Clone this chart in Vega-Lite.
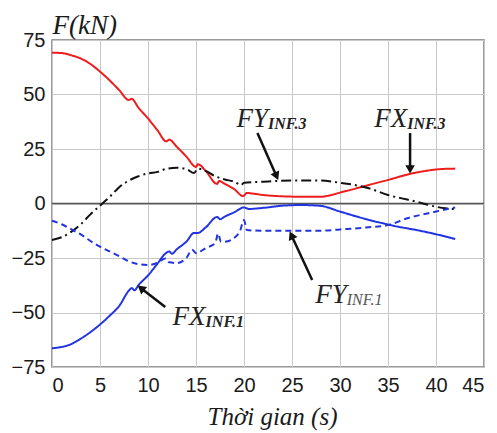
{
  "$schema": "https://vega.github.io/schema/vega-lite/v6.json",
  "width": 432,
  "height": 327,
  "autosize": "none",
  "padding": {"left": 52, "top": 40, "right": 13, "bottom": 66},
  "background": "white",
  "config": {
    "view": {"stroke": "#7a7a7a", "strokeWidth": 1.5},
    "axis": {"gridColor": "#c8c8c8", "gridWidth": 1, "domain": false, "ticks": false, "labelFont": "Liberation Sans", "labelFontSize": 20, "labelColor": "#1a1a1a", "titleFont": "Liberation Serif", "titleFontStyle": "italic", "titleFontWeight": "normal", "titleFontSize": 25, "titleColor": "#1a1a1a"}
  },
  "datasets": {
    "series": [
      {"t":0,"F":69.2,"s":"FX3"},{"t":1,"F":69,"s":"FX3"},{"t":2,"F":68,"s":"FX3"},{"t":3,"F":66.5,"s":"FX3"},{"t":4,"F":64,"s":"FX3"},{"t":5,"F":60.5,"s":"FX3"},{"t":6,"F":56.5,"s":"FX3"},{"t":7,"F":52,"s":"FX3"},{"t":8,"F":47.5,"s":"FX3"},{"t":8.3,"F":48,"s":"FX3"},{"t":9,"F":44,"s":"FX3"},{"t":10,"F":39,"s":"FX3"},{"t":11,"F":33.5,"s":"FX3"},{"t":11.9,"F":28.5,"s":"FX3"},{"t":12.2,"F":29.3,"s":"FX3"},{"t":13,"F":26,"s":"FX3"},{"t":14,"F":21.5,"s":"FX3"},{"t":15,"F":16.8,"s":"FX3"},{"t":15.2,"F":18,"s":"FX3"},{"t":16,"F":15,"s":"FX3"},{"t":17.2,"F":9,"s":"FX3"},{"t":17.4,"F":10.3,"s":"FX3"},{"t":18,"F":9,"s":"FX3"},{"t":19,"F":6.5,"s":"FX3"},{"t":19.9,"F":3.4,"s":"FX3"},{"t":20.3,"F":4.8,"s":"FX3"},{"t":21,"F":4.5,"s":"FX3"},{"t":22,"F":3.9,"s":"FX3"},{"t":24,"F":3.3,"s":"FX3"},{"t":26,"F":3.1,"s":"FX3"},{"t":28,"F":3.1,"s":"FX3"},{"t":29,"F":3.8,"s":"FX3"},{"t":30,"F":5,"s":"FX3"},{"t":31.5,"F":6.7,"s":"FX3"},{"t":33,"F":8.5,"s":"FX3"},{"t":35,"F":10.8,"s":"FX3"},{"t":37.5,"F":13.8,"s":"FX3"},{"t":39,"F":15,"s":"FX3"},{"t":40,"F":15.6,"s":"FX3"},{"t":41,"F":15.9,"s":"FX3"},{"t":42,"F":16,"s":"FX3"},
      {"t":0,"F":-16.7,"s":"FY3"},{"t":1,"F":-15.5,"s":"FY3"},{"t":2,"F":-13,"s":"FY3"},{"t":3,"F":-9.5,"s":"FY3"},{"t":4,"F":-5,"s":"FY3"},{"t":5,"F":-1,"s":"FY3"},{"t":6,"F":3,"s":"FY3"},{"t":7,"F":7.5,"s":"FY3"},{"t":8,"F":10.5,"s":"FY3"},{"t":9,"F":12.5,"s":"FY3"},{"t":10,"F":13.8,"s":"FY3"},{"t":11,"F":14.5,"s":"FY3"},{"t":12,"F":16,"s":"FY3"},{"t":13,"F":16.4,"s":"FY3"},{"t":14,"F":15.8,"s":"FY3"},{"t":14.8,"F":14,"s":"FY3"},{"t":15.2,"F":16,"s":"FY3"},{"t":16,"F":15,"s":"FY3"},{"t":17,"F":12.5,"s":"FY3"},{"t":18,"F":11,"s":"FY3"},{"t":19,"F":10,"s":"FY3"},{"t":19.7,"F":8.5,"s":"FY3"},{"t":20,"F":9.5,"s":"FY3"},{"t":22,"F":10,"s":"FY3"},{"t":25,"F":10.5,"s":"FY3"},{"t":28,"F":10.5,"s":"FY3"},{"t":30,"F":9.5,"s":"FY3"},{"t":31.5,"F":8.5,"s":"FY3"},{"t":33,"F":7,"s":"FY3"},{"t":35,"F":3.9,"s":"FY3"},{"t":37,"F":1.8,"s":"FY3"},{"t":38,"F":0.8,"s":"FY3"},{"t":40,"F":-1.5,"s":"FY3"},{"t":41,"F":-2.2,"s":"FY3"},{"t":42,"F":-2.6,"s":"FY3"},
      {"t":0,"F":-66.4,"s":"FX1"},{"t":1,"F":-65.8,"s":"FX1"},{"t":2,"F":-64.5,"s":"FX1"},{"t":3,"F":-62,"s":"FX1"},{"t":4,"F":-59,"s":"FX1"},{"t":5,"F":-55.5,"s":"FX1"},{"t":6,"F":-51.5,"s":"FX1"},{"t":7,"F":-47,"s":"FX1"},{"t":8,"F":-40,"s":"FX1"},{"t":8.3,"F":-38.8,"s":"FX1"},{"t":8.6,"F":-39.8,"s":"FX1"},{"t":9,"F":-37.5,"s":"FX1"},{"t":10,"F":-33,"s":"FX1"},{"t":11,"F":-27.5,"s":"FX1"},{"t":11.8,"F":-23,"s":"FX1"},{"t":12.2,"F":-22,"s":"FX1"},{"t":12.5,"F":-23,"s":"FX1"},{"t":13,"F":-21,"s":"FX1"},{"t":14,"F":-17.5,"s":"FX1"},{"t":14.8,"F":-13.5,"s":"FX1"},{"t":15.2,"F":-13.5,"s":"FX1"},{"t":16,"F":-11,"s":"FX1"},{"t":17.2,"F":-6.2,"s":"FX1"},{"t":17.5,"F":-7.2,"s":"FX1"},{"t":18,"F":-6,"s":"FX1"},{"t":19,"F":-4,"s":"FX1"},{"t":20,"F":-1.8,"s":"FX1"},{"t":20.5,"F":-2.5,"s":"FX1"},{"t":22,"F":-2,"s":"FX1"},{"t":24,"F":-1,"s":"FX1"},{"t":26,"F":-0.7,"s":"FX1"},{"t":28,"F":-1.1,"s":"FX1"},{"t":30,"F":-3.7,"s":"FX1"},{"t":32,"F":-6.3,"s":"FX1"},{"t":34,"F":-8.6,"s":"FX1"},{"t":36,"F":-10.6,"s":"FX1"},{"t":38,"F":-12.2,"s":"FX1"},{"t":40,"F":-14.1,"s":"FX1"},{"t":42,"F":-16.3,"s":"FX1"},
      {"t":0,"F":-7.9,"s":"FY1"},{"t":1,"F":-9.5,"s":"FY1"},{"t":2,"F":-11.8,"s":"FY1"},{"t":3,"F":-14.2,"s":"FY1"},{"t":4,"F":-17.2,"s":"FY1"},{"t":5,"F":-19.8,"s":"FY1"},{"t":6,"F":-22,"s":"FY1"},{"t":7,"F":-24.2,"s":"FY1"},{"t":8,"F":-26.5,"s":"FY1"},{"t":9,"F":-27.8,"s":"FY1"},{"t":10,"F":-28.2,"s":"FY1"},{"t":11,"F":-27.2,"s":"FY1"},{"t":11.8,"F":-25.2,"s":"FY1"},{"t":12.2,"F":-27,"s":"FY1"},{"t":13,"F":-27.3,"s":"FY1"},{"t":14,"F":-25,"s":"FY1"},{"t":14.6,"F":-21.2,"s":"FY1"},{"t":15,"F":-22.8,"s":"FY1"},{"t":16,"F":-20.5,"s":"FY1"},{"t":17,"F":-18.2,"s":"FY1"},{"t":17.3,"F":-13.8,"s":"FY1"},{"t":17.6,"F":-17.5,"s":"FY1"},{"t":18,"F":-17.5,"s":"FY1"},{"t":19.5,"F":-13.5,"s":"FY1"},{"t":20,"F":-7.6,"s":"FY1"},{"t":20.3,"F":-12.2,"s":"FY1"},{"t":22,"F":-12.5,"s":"FY1"},{"t":25,"F":-12.5,"s":"FY1"},{"t":28,"F":-12.5,"s":"FY1"},{"t":30,"F":-11.9,"s":"FY1"},{"t":33,"F":-10.9,"s":"FY1"},{"t":35,"F":-9.9,"s":"FY1"},{"t":37,"F":-6.8,"s":"FY1"},{"t":40,"F":-3.7,"s":"FY1"},{"t":42,"F":-1.8,"s":"FY1"}
    ],
    "arrows": [
      {"id":"FY3","x":21.4,"y":32.3,"x2":23.33,"y2":13.1},
      {"id":"FX3","x":37.3,"y":32.3,"x2":37.3,"y2":16.3},
      {"id":"FX1","x":11.8,"y":-47.5,"x2":9.375,"y2":-39.2},
      {"id":"FY1","x":27.1,"y":-35.1,"x2":25.0,"y2":-15.1}
    ],
    "labels": [
      {"id":"FY3","x":22.5,"y":35.1,"main":"FY","sub":"INF.3"},
      {"id":"FX3","x":37.0,"y":35.1,"main":"FX","sub":"INF.3"},
      {"id":"FX1","x":16.0,"y":-55.7,"main":"FX","sub":"INF.1"},
      {"id":"FY1","x":30.7,"y":-45.6,"main":"FY","sub":"INF.1"}
    ]
  },
  "layer": [
    {
      "data": {"values": [{"z": 0}]},
      "mark": {"type": "rule", "color": "#555555", "strokeWidth": 1.5},
      "encoding": {"y": {"field": "z", "type": "quantitative", "scale": {"domain": [-75, 75], "nice": false}}}
    },
    {
      "data": {"name": "series"},
      "mark": {"type": "line", "strokeWidth": 2, "clip": false, "interpolate": "monotone"},
      "encoding": {
        "x": {"field": "t", "type": "quantitative", "scale": {"domain": [0, 45], "nice": false}, "axis": {"values": [0,5,10,15,20,25,30,35,40,45], "title": "Thời gian (s)", "labelPadding": 8, "titleY": 57, "titleBaseline": "alphabetic", "titleX": 220}},
        "y": {"field": "F", "type": "quantitative", "scale": {"domain": [-75, 75], "nice": false}, "axis": {"values": [-75,-50,-25,0,25,50,75], "title": "F(kN)", "titleFontSize": 27, "titleAngle": 0, "titleAlign": "left", "titleBaseline": "alphabetic", "titleX": 0, "titleY": -7, "labelPadding": 7}},
        "detail": {"field": "s"},
        "color": {"field": "s", "type": "nominal", "scale": {"domain": ["FX3","FY3","FX1","FY1"], "range": ["#ee1c1c","#111111","#2233e0","#2233e0"]}, "legend": null},
        "strokeDash": {"field": "s", "type": "nominal", "scale": {"domain": ["FX3","FY3","FX1","FY1"], "range": [[1,0],[10,4,2,4],[1,0],[6,4]]}, "legend": null}
      }
    },
    {
      "data": {"name": "arrows"},
      "mark": {"type": "rule", "color": "#111111", "strokeWidth": 2.5},
      "encoding": {
        "x": {"field": "x", "type": "quantitative"},
        "y": {"field": "y", "type": "quantitative"},
        "x2": {"field": "x2"},
        "y2": {"field": "y2"}
      }
    },
    {
      "data": {"name": "arrows"},
      "transform": [{"filter": "datum.id === 'FY3'"}],
      "mark": {"type": "point", "shape": "triangle", "filled": true, "color": "#111111", "size": 90, "angle": 156, "opacity": 1},
      "encoding": {"x": {"field": "x2", "type": "quantitative"}, "y": {"field": "y2", "type": "quantitative"}}
    },
    {
      "data": {"name": "arrows"},
      "transform": [{"filter": "datum.id === 'FX3'"}],
      "mark": {"type": "point", "shape": "triangle", "filled": true, "color": "#111111", "size": 90, "angle": 180, "opacity": 1},
      "encoding": {"x": {"field": "x2", "type": "quantitative"}, "y": {"field": "y2", "type": "quantitative"}}
    },
    {
      "data": {"name": "arrows"},
      "transform": [{"filter": "datum.id === 'FX1'"}],
      "mark": {"type": "point", "shape": "triangle", "filled": true, "color": "#111111", "size": 90, "angle": 308, "opacity": 1},
      "encoding": {"x": {"field": "x2", "type": "quantitative"}, "y": {"field": "y2", "type": "quantitative"}}
    },
    {
      "data": {"name": "arrows"},
      "transform": [{"filter": "datum.id === 'FY1'"}],
      "mark": {"type": "point", "shape": "triangle", "filled": true, "color": "#111111", "size": 90, "angle": 335, "opacity": 1},
      "encoding": {"x": {"field": "x2", "type": "quantitative"}, "y": {"field": "y2", "type": "quantitative"}}
    },
    {
      "data": {"name": "labels"},
      "mark": {"type": "text", "font": "Liberation Serif", "fontStyle": "italic", "fontSize": 27, "align": "right", "baseline": "alphabetic", "color": "#222222"},
      "encoding": {"x": {"field": "x", "type": "quantitative"}, "y": {"field": "y", "type": "quantitative"}, "text": {"field": "main"}}
    },
    {
      "data": {"name": "labels"},
      "transform": [{"filter": "datum.id !== 'FY1'"}],
      "mark": {"type": "text", "font": "Liberation Serif", "fontStyle": "italic", "fontWeight": "bold", "fontSize": 16, "align": "left", "baseline": "alphabetic", "dy": 2, "color": "#222222"},
      "encoding": {"x": {"field": "x", "type": "quantitative"}, "y": {"field": "y", "type": "quantitative"}, "text": {"field": "sub"}}
    },
    {
      "data": {"name": "labels"},
      "transform": [{"filter": "datum.id === 'FY1'"}],
      "mark": {"type": "text", "font": "Liberation Serif", "fontStyle": "italic", "fontSize": 16, "align": "left", "baseline": "alphabetic", "dy": 2, "color": "#555555"},
      "encoding": {"x": {"field": "x", "type": "quantitative"}, "y": {"field": "y", "type": "quantitative"}, "text": {"field": "sub"}}
    }
  ]
}
